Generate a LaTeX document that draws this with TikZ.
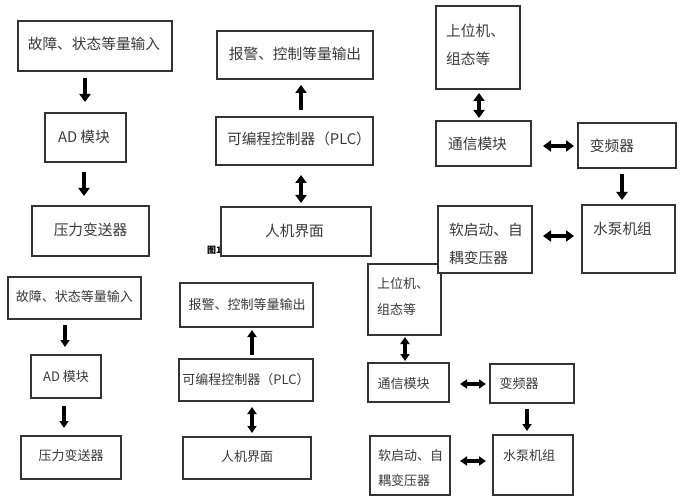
\documentclass[tikz,border=0pt]{standalone}
\usepackage{fontspec}
\newfontfamily\cjk{Noto Sans CJK SC}
\usetikzlibrary{arrows.meta}
\definecolor{ln}{HTML}{333333}
\definecolor{tx}{HTML}{3A3A3A}
\tikzset{
  box/.style={draw=ln,line width=1.1pt,fill=white,inner sep=0pt},
  big/.style={font=\cjk\fontsize{14.7}{18}\selectfont,text=tx,inner sep=0pt},
  sml/.style={font=\cjk\fontsize{13}{16}\selectfont,text=tx,inner sep=0pt},
  arrT/.style={line width=4pt,draw=black,-{Triangle[width=11pt,length=8pt]}},
  darrT/.style={line width=4pt,draw=black,{Triangle[width=11pt,length=8pt]}-{Triangle[width=11pt,length=8pt]}},
  arrB/.style={line width=3.2pt,draw=black,-{Triangle[width=9pt,length=7pt]}},
  darrB/.style={line width=3.2pt,draw=black,{Triangle[width=9pt,length=7pt]}-{Triangle[width=9pt,length=7pt]}},
}
\newcommand\bx[5]{\node[box,minimum width={(#4-#2)*1pt},minimum height={(#5-#3)*1pt}] (#1) at ({(#2+#4)/2},{(#3+#5)/2}) {};}
\begin{document}
\begin{tikzpicture}[x=1pt,y=-1pt]
\useasboundingbox[fill=white] (0,0) rectangle (681,500);
% ================= bottom copy =================
\bx{B1}{8}{277}{141}{319}
\bx{B2}{31}{355}{101}{398}
\bx{B3}{21}{436}{121}{479}
\bx{B4}{180}{283}{313}{327}
\bx{B5}{179}{359}{313}{401}
\bx{B6}{183}{437}{311}{479}
\bx{B7}{368}{264}{441}{335}
\bx{B8}{368}{363}{449}{402}
\bx{B9}{490}{364}{574}{403}
\bx{B10}{493}{435}{573}{495}
\bx{B11}{370}{436}{450}{495}
\node[sml] (B1t) at (74.5,297) {故障、状态等量输入};
\node[sml] (B2t) at (66,377) {AD 模块};
\node[sml] (B3t) at (71,456) {压力变送器};
\node[sml] (B4t) at (247,305) {报警、控制等量输出};
\node[sml] (B5t) at (246,380) {可编程控制器（PLC）};
\node[sml] (B6t) at (247,457) {人机界面};
\node[sml,anchor=west] (B7a) at (377,284) {上位机、};
\node[sml,anchor=west] (B7b) at (377,310) {组态等};
\node[sml] (B8t) at (403.5,384) {通信模块};
\node[sml] (B9t) at (519,384) {变频器};
\node[sml] (B10t) at (529,456) {水泵机组};
\node[sml,anchor=west] (B11a) at (378,456) {软启动、自};
\node[sml,anchor=west] (B11b) at (378,481) {耦变压器};
\coordinate (b1s) at (65,325); \coordinate (b1e) at (65,347);
\coordinate (b2s) at (64,406); \coordinate (b2e) at (64,428);
\coordinate (b3s) at (252,355); \coordinate (b3e) at (252,330);
\coordinate (b4s) at (252,407); \coordinate (b4e) at (252,433);
\coordinate (b5s) at (405,337); \coordinate (b5e) at (405,361);
\coordinate (b6s) at (460,384); \coordinate (b6e) at (486,384);
\coordinate (b7s) at (527,409); \coordinate (b7e) at (527,431);
\coordinate (b8s) at (460,461); \coordinate (b8e) at (486,461);
\draw[arrB] (b1s) -- (b1e);
\draw[arrB] (b2s) -- (b2e);
\draw[arrB] (b3s) -- (b3e);
\draw[darrB] (b4s) -- (b4e);
\draw[darrB] (b5s) -- (b5e);
\draw[darrB] (b6s) -- (b6e);
\draw[arrB] (b7s) -- (b7e);
\draw[darrB] (b8s) -- (b8e);
% caption fragment (partly hidden behind the top copy)
\node[font=\cjk\bfseries\fontsize{9}{11}\selectfont,anchor=west,inner sep=0pt] (cap) at (207,250) {图1};
% ================= top copy =================
\bx{T1}{18}{21}{172}{71}
\bx{T2}{45}{113}{126}{162}
\bx{T3}{32}{206}{149}{256}
\bx{T4}{217}{31}{373}{79}
\bx{T5}{216}{117}{373}{165}
\bx{T6}{221}{207}{371}{256}
\bx{T7}{436}{6}{520}{89}
\bx{T8}{436}{121}{531}{166}
\bx{T9}{578}{123}{676}{168}
\bx{T10}{582}{205}{675}{273}
\bx{T11}{438}{206}{532}{273}
\node[big] (T1t) at (94,44) {故障、状态等量输入};
\node[big] (T2t) at (84,137) {AD 模块};
\node[big] (T3t) at (90.5,230) {压力变送器};
\node[big] (T4t) at (295,54) {报警、控制等量输出};
\node[big] (T5t) at (299,139) {可编程控制器（PLC）};
\node[big] (T6t) at (294.5,231) {人机界面};
\node[big,anchor=west] (T7a) at (446,31) {上位机、};
\node[big,anchor=west] (T7b) at (446,59) {组态等};
\node[big] (T8t) at (477.5,144) {通信模块};
\node[big] (T9t) at (612,146) {变频器};
\node[big] (T10t) at (622.5,229) {水泵机组};
\node[big,anchor=west] (T11a) at (449,230) {软启动、自};
\node[big,anchor=west] (T11b) at (449,258) {耦变压器};
\coordinate (t1s) at (85,78); \coordinate (t1e) at (85,102);
\coordinate (t2s) at (84,172); \coordinate (t2e) at (84,196);
\coordinate (t3s) at (301,110); \coordinate (t3e) at (301,85);
\coordinate (t4s) at (301,175); \coordinate (t4e) at (301,203);
\coordinate (t5s) at (479,93); \coordinate (t5e) at (479,118);
\coordinate (t6s) at (543,146); \coordinate (t6e) at (574,146);
\coordinate (t7s) at (622,174); \coordinate (t7e) at (622,200);
\coordinate (t8s) at (543,236); \coordinate (t8e) at (574,236);
\draw[arrT] (t1s) -- (t1e);
\draw[arrT] (t2s) -- (t2e);
\draw[arrT] (t3s) -- (t3e);
\draw[darrT] (t4s) -- (t4e);
\draw[darrT] (t5s) -- (t5e);
\draw[darrT] (t6s) -- (t6e);
\draw[arrT] (t7s) -- (t7e);
\draw[darrT] (t8s) -- (t8e);
\end{tikzpicture}
\end{document}
